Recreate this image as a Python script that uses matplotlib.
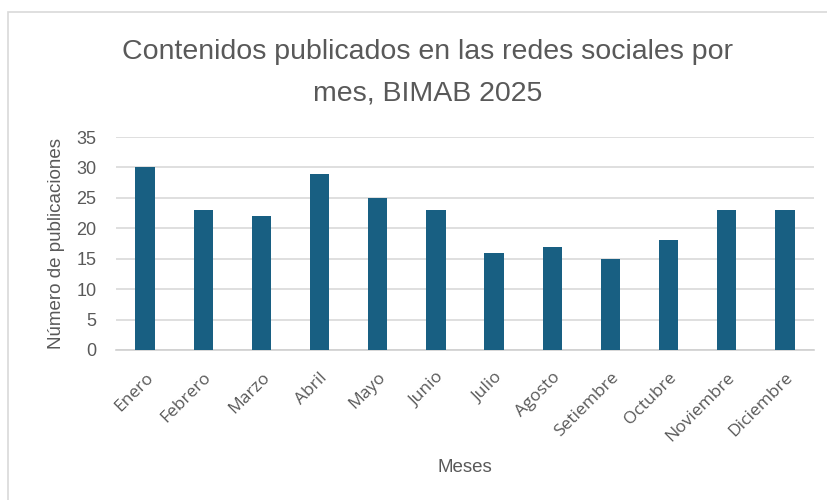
import matplotlib
matplotlib.use("Agg")
import matplotlib.pyplot as plt
from matplotlib.patches import Rectangle

months = ["Enero", "Febrero", "Marzo", "Abril", "Mayo", "Junio", "Julio",
          "Agosto", "Setiembre", "Octubre", "Noviembre", "Diciembre"]
values = [30, 23, 22, 29, 25, 23, 16, 17, 15, 18, 23, 23]
yticks = [0, 5, 10, 15, 20, 25, 30, 35]

reg = ["Liberation Sans", "DejaVu Sans"]
xfont = ["Open Sans", "Liberation Sans", "DejaVu Sans"]
txt = "#595959"

fig = plt.figure(figsize=(8.28, 5.0), dpi=100)
fig.patches.append(Rectangle((8/828, -0.1), 2.0, (500-12)/500 + 0.1, transform=fig.transFigure,
                             fill=False, edgecolor="#d9d9d9", linewidth=1.2))
ax = fig.add_axes([116/828, (500-350)/500, (814-116)/828, (350-137)/500])
x = list(range(len(months)))
ax.bar(x, values, width=0.33, color="#185f82", zorder=3)
ax.set_xlim(-0.5, len(months) - 0.5)
ax.set_ylim(0, 35)
ax.set_yticks(yticks)
ax.set_yticklabels([str(t) for t in yticks], fontsize=13, color=txt, family=reg)
ax.set_xticks(x)
ax.set_xticklabels(months, rotation=45, ha="right", rotation_mode="anchor",
                   fontsize=12.5, color=txt, family=xfont)
ax.tick_params(axis="both", length=0)
ax.tick_params(axis="y", pad=14)
ax.tick_params(axis="x", pad=14)
ax.grid(axis="y", color="#d9d9d9", linewidth=1.2, zorder=0)
for s in ["top", "right", "left"]:
    ax.spines[s].set_visible(False)
ax.spines["bottom"].set_color("#d0d0d0")
ax.spines["bottom"].set_linewidth(1.2)
ax.set_ylabel("Número de publicaciones", fontsize=13.5, color=txt, family=reg, labelpad=8)
fig.text(465/828, 1 - 467/500, "Meses", ha="center", va="center", fontsize=13.5,
         color=txt, family=reg)
fig.text(428/828, 1 - 52/500, "Contenidos publicados en las redes sociales por",
         ha="center", va="center", fontsize=20.5, color=txt, family=reg)
fig.text(428/828, 1 - 93/500, "mes, BIMAB 2025",
         ha="center", va="center", fontsize=20.5, color=txt, family=reg)
fig.savefig("out.png", dpi=100, facecolor="white")
